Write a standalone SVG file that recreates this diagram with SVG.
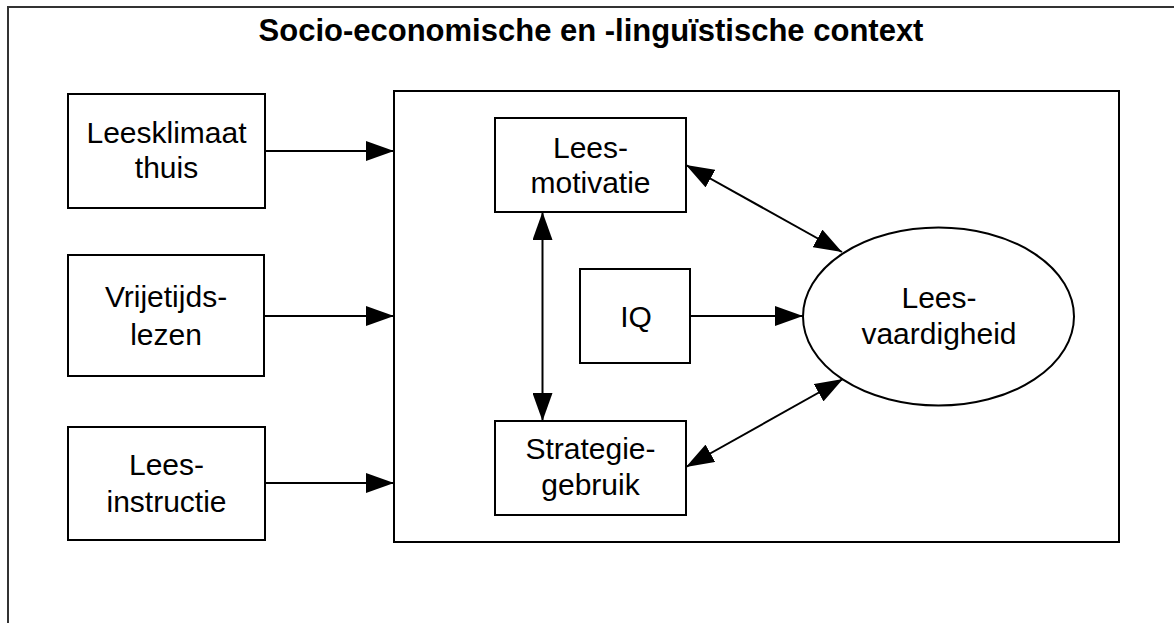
<svg xmlns="http://www.w3.org/2000/svg" width="1174" height="623" viewBox="0 0 1174 623">
<style>
.box{fill:#fff;stroke:#000;stroke-width:2}
.frame{fill:none;stroke:#333;stroke-width:2}
.lbl{font-family:"Liberation Sans",Arial,sans-serif;font-size:30px;fill:#000;text-anchor:middle}
.title{font-family:"Liberation Sans",Arial,sans-serif;font-size:31px;font-weight:bold;fill:#000;text-anchor:middle}
.con{stroke:#000;stroke-width:2;fill:none}
</style>
<defs>
<marker id="ah" markerUnits="userSpaceOnUse" markerWidth="28" markerHeight="20" refX="28" refY="10" orient="auto-start-reverse" viewBox="0 0 28 20">
<path d="M0,0 L28,10 L0,20 z" fill="#000"/>
</marker>
</defs>
<rect width="1174" height="623" fill="#fff"/>
<g id="context">
<rect class="frame" x="8" y="7" width="1200" height="700"/>
<text class="title" x="591" y="41">Socio-economische en -linguïstische context</text>
</g>
<g id="innerbox">
<rect class="box" x="394" y="91" width="725" height="451"/>
</g>
<g id="leesklimaat">
<rect class="box" x="68" y="94" width="197" height="114"/>
<text class="lbl" x="166.5" y="143">Leesklimaat</text>
<text class="lbl" x="166.5" y="178">thuis</text>
</g>
<g id="vrijetijdslezen">
<rect class="box" x="68" y="255" width="196" height="121"/>
<text class="lbl" x="166" y="307">Vrijetijds-</text>
<text class="lbl" x="166" y="345">lezen</text>
</g>
<g id="leesinstructie">
<rect class="box" x="68" y="427" width="197" height="113"/>
<text class="lbl" x="166.5" y="475">Lees-</text>
<text class="lbl" x="166.5" y="512">instructie</text>
</g>
<g id="leesmotivatie">
<rect class="box" x="495" y="118" width="191" height="94"/>
<text class="lbl" x="590.5" y="158">Lees-</text>
<text class="lbl" x="590.5" y="193">motivatie</text>
</g>
<g id="iq">
<rect class="box" x="580" y="269" width="110" height="94"/>
<text class="lbl" x="636" y="327">IQ</text>
</g>
<g id="strategiegebruik">
<rect class="box" x="495" y="421" width="191" height="94"/>
<text class="lbl" x="590.5" y="459">Strategie-</text>
<text class="lbl" x="590.5" y="495">gebruik</text>
</g>
<g id="leesvaardigheid">
<ellipse class="box" cx="938.5" cy="316.5" rx="135.5" ry="89"/>
<text class="lbl" x="939" y="308">Lees-</text>
<text class="lbl" x="939" y="344">vaardigheid</text>
</g>
<g id="connectors">
<line class="con" x1="265" y1="151" x2="394" y2="151" marker-end="url(#ah)"/>
<line class="con" x1="264" y1="316" x2="394" y2="316" marker-end="url(#ah)"/>
<line class="con" x1="265" y1="483" x2="394" y2="483" marker-end="url(#ah)"/>
<line class="con" x1="542.5" y1="212" x2="542.5" y2="421" marker-start="url(#ah)" marker-end="url(#ah)"/>
<line class="con" x1="690" y1="316" x2="803" y2="316" marker-end="url(#ah)"/>
<line class="con" x1="686" y1="165" x2="842" y2="252" marker-start="url(#ah)" marker-end="url(#ah)"/>
<line class="con" x1="686" y1="467" x2="843" y2="379" marker-start="url(#ah)" marker-end="url(#ah)"/>
</g>
</svg>
